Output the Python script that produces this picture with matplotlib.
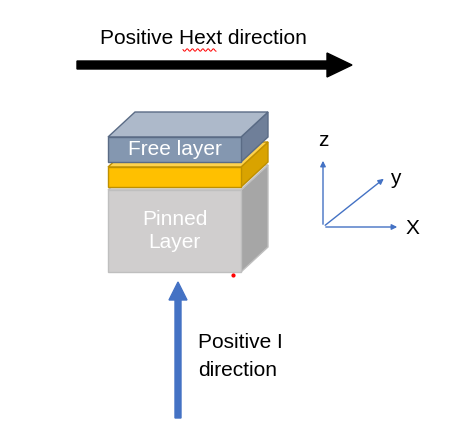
import matplotlib
matplotlib.use("Agg")
import matplotlib.pyplot as plt
from matplotlib.patches import Polygon, FancyArrow
import numpy as np

W, H = 472, 447
layer_names = ["Free layer", "", "Pinned\nLayer"]
layer_tops = [137, 167, 190]
layer_bottoms = [162, 187, 272]
front_colors = ["#8497B0", "#FFC000", "#D0CECE"]
top_colors = ["#ADB9CA", "#FFD24D", "#DDDCDC"]
side_colors = ["#6F7F99", "#D9A300", "#A6A6A6"]
edge_colors = ["#5A6B85", "#BF9000", "#BFBFBF"]
x0, x1, dx, dy = 108, 241, 27, 25
FS = 15

fig = plt.figure(figsize=(W/100, H/100), dpi=100)
ax = fig.add_axes([0, 0, 1, 1])
ax.set_xlim(0, W); ax.set_ylim(H, 0); ax.axis("off")

for i in [2, 1, 0]:
    t, b = layer_tops[i], layer_bottoms[i]
    ec = edge_colors[i]
    ax.add_patch(Polygon([(x1, t), (x1+dx, t-dy), (x1+dx, b-dy), (x1, b)], closed=True, fc=side_colors[i], ec=ec, lw=1))
    ax.add_patch(Polygon([(x0, t), (x1, t), (x1+dx, t-dy), (x0+dx, t-dy)], closed=True, fc=top_colors[i], ec=ec, lw=1))
    ax.add_patch(Polygon([(x0, t), (x1, t), (x1, b), (x0, b)], closed=True, fc=front_colors[i], ec=ec, lw=1))
    if layer_names[i]:
        ax.text((x0+x1)/2, (t+b)/2, layer_names[i], color="white", ha="center", va="center",
                fontsize=FS, family="Liberation Sans", linespacing=1.25)

ax.plot([233], [275], "o", color="red", ms=2)

ax.add_patch(FancyArrow(77, 65, 250, 0, width=8, head_width=24, head_length=25,
                        length_includes_head=False, color="black"))
ax.text(100, 38, "Positive Hext direction", fontsize=FS, va="center", family="Liberation Sans")
xs = np.linspace(183, 216, 60)
ax.plot(xs, 50 + 1.2*np.sin(xs*1.2), color="red", lw=0.7)

ax.add_patch(FancyArrow(178, 418, 0, -118, width=6, head_width=18, head_length=18,
                        length_includes_head=False, color="#4472C4"))
ax.text(198, 342, "Positive I", fontsize=FS, va="center", family="Liberation Sans")
ax.text(198, 371, "direction", fontsize=FS, va="center", family="Liberation Sans")

ox, oy = 323, 227
for (ex, ey) in [(323, 158), (400, 227), (386, 177)]:
    ax.annotate("", xy=(ex, ey), xytext=(ox, oy),
                arrowprops=dict(arrowstyle="-|>", color="#4472C4", lw=1, mutation_scale=8))
ax.text(323, 140, "z", fontsize=FS, ha="center", va="center", family="Liberation Sans")
ax.text(395, 179, "y", fontsize=FS, ha="center", va="center", family="Liberation Sans")
ax.text(412, 228, "X", fontsize=FS, ha="center", va="center", family="Liberation Sans")

fig.savefig("out.png", dpi=100)
